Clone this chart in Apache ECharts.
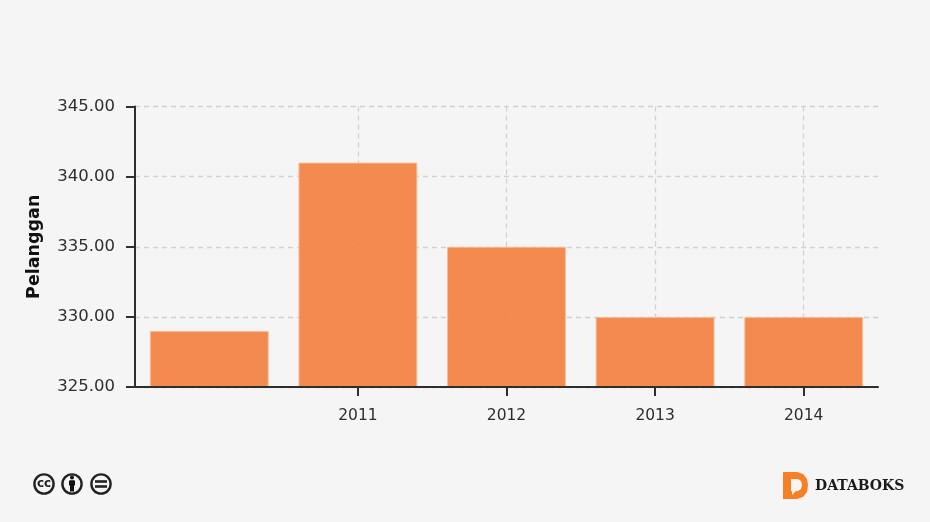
<!DOCTYPE html>
<html><head><meta charset="utf-8">
<style>html,body{margin:0;padding:0;background:#f5f5f5}#c{width:930px;height:522px}</style>
<script src="https://cdn.jsdelivr.net/npm/echarts@6/dist/echarts.min.js"></script>
</head><body><div id="c"></div>
<script>
const categories = ['', '2011', '2012', '2013', '2014'];
const values = [329, 341, 335, 330, 330];
const axisName = 'Pelanggan';
const yMin = 325, yMax = 345, yStep = 5;
const ink = '#2e2e2e', font = 'DejaVu Sans';
const hasLabel = (i, v) => v !== '';
const chart = echarts.init(document.getElementById('c'), null, {renderer: 'canvas'});
const ccIcon = (cx, inner) => [
  {type: 'circle', shape: {cx, cy: 484, r: 9.6}, style: {fill: '#f5f5f5', stroke: '#222', lineWidth: 2.4}},
  ...inner
];
const gridStyle = {color: '#d2d2d2', type: [5, 4], width: 1.3};
chart.setOption({
  backgroundColor: '#f5f5f5',
  animation: false,
  grid: {left: 135, right: 52, top: 106.5, bottom: 135},
  xAxis: [{
    type: 'category', data: categories,
    axisLine: {show: false}, axisTick: {show: false}, axisLabel: {show: false},
    splitLine: {show: true, alignWithLabel: true, interval: hasLabel, lineStyle: gridStyle}
  }, {
    type: 'category', data: categories, position: 'bottom', z: 5,
    axisLine: {lineStyle: {color: ink, width: 2}},
    axisTick: {show: true, alignWithLabel: true, length: 9, interval: hasLabel, lineStyle: {color: ink, width: 2}},
    axisLabel: {color: ink, fontFamily: font, fontSize: 15.5, margin: 21, interval: 0},
    splitLine: {show: false}
  }],
  yAxis: {
    type: 'value', min: yMin, max: yMax, interval: yStep,
    name: axisName, nameLocation: 'middle', nameGap: 92,
    nameTextStyle: {color: '#111', fontFamily: font, fontSize: 17.5, fontWeight: 'bold'},
    axisLine: {show: true, lineStyle: {color: ink, width: 2}},
    axisTick: {show: true, length: 9, lineStyle: {color: ink, width: 2}},
    axisLabel: {color: ink, fontFamily: font, fontSize: 16.5, margin: 20, formatter: v => v.toFixed(2)},
    splitLine: {show: true, lineStyle: gridStyle}
  },
  series: [{
    type: 'bar', data: values, barCategoryGap: '20%', xAxisIndex: 0,
    itemStyle: {color: 'rgba(243,128,63,0.9)', borderColor: 'rgba(250,190,150,0.9)', borderWidth: 1}
  }],
  graphic: {elements: [
    ...ccIcon(44, [
      {type: 'text', style: {x: 44, y: 484, text: 'cc', fill: '#222', font: 'bold 12px "DejaVu Sans"', align: 'center', verticalAlign: 'middle'}}
    ]),
    ...ccIcon(72, [
      {type: 'circle', shape: {cx: 72, cy: 477.5, r: 2}, style: {fill: '#111'}},
      {type: 'rect', shape: {x: 69, y: 480.2, width: 6, height: 5.5, r: 1}, style: {fill: '#111'}},
      {type: 'rect', shape: {x: 70, y: 485, width: 4, height: 6.5}, style: {fill: '#111'}}
    ]),
    ...ccIcon(101, [
      {type: 'rect', shape: {x: 95, y: 480.2, width: 12, height: 2.6}, style: {fill: '#222'}},
      {type: 'rect', shape: {x: 95, y: 485.2, width: 12, height: 2.6}, style: {fill: '#222'}}
    ]),
    {type: 'polygon', shape: {points: [[783,472],[797,472],[803,474],[807,479],[808,485],[807,492],[803,497],[797,499],[783,499]]}, style: {fill: '#f58025'}},
    {type: 'polygon', shape: {points: [[791,479],[798,479],[801,481],[802,485],[801,489],[798,491],[796,491],[792,495],[792,491],[791,491]]}, style: {fill: '#f5f5f5'}},
    {type: 'text', style: {x: 815, y: 486, text: 'DATABOKS', fill: '#1a1a1a', font: 'bold 14px "DejaVu Serif"', verticalAlign: 'middle'}}
  ]}
});
</script></body></html>
